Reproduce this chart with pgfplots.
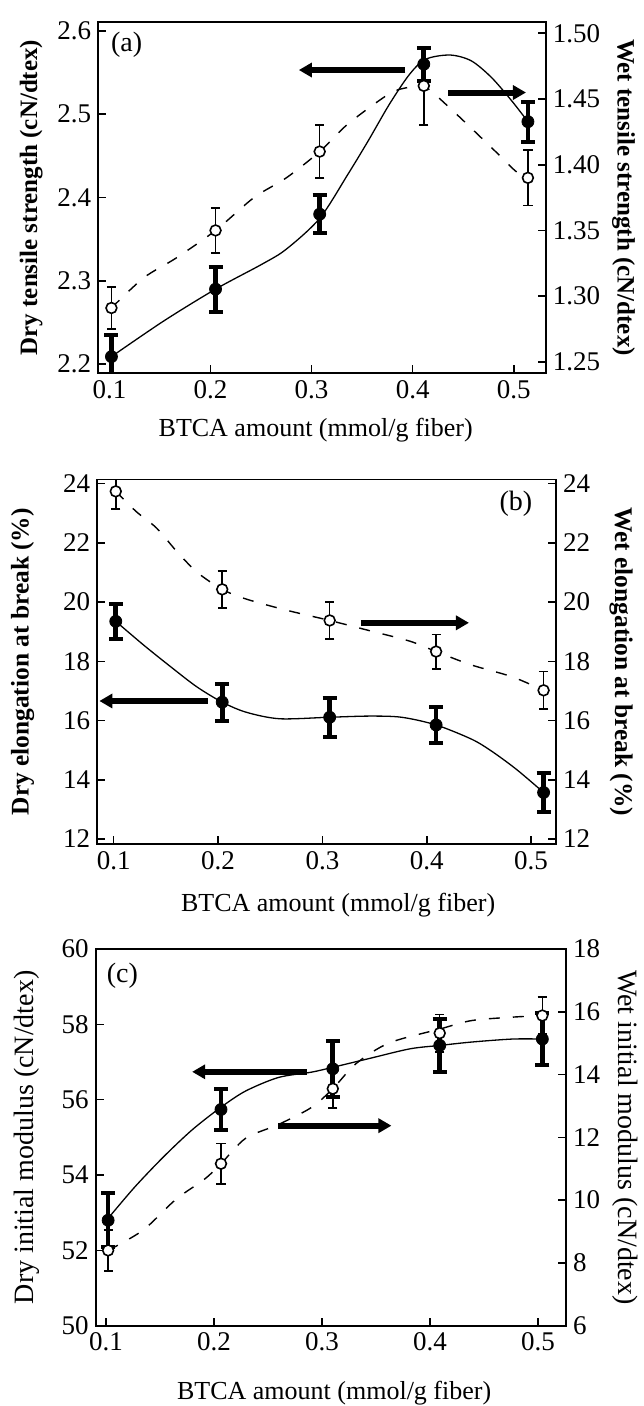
\documentclass[border=0pt]{standalone}
\usepackage{pgfplots}
\pgfplotsset{compat=1.18}
\usepackage{fontspec}
\setmainfont{Liberation Serif}
\usetikzlibrary{arrows.meta}

\tikzset{arr/.style={line width=3pt, -{Triangle[length=6.5pt,width=7pt]}}}
\pgfplotsset{
  base/.style={
    scale only axis, anchor=south west,
    font=\fontsize{13}{15}\selectfont,
    tick label style={font=\fontsize{13.5}{15}\selectfont},
    axis line style={line width=0.9pt},
    major tick style={line width=0.8pt, black},
    major tick length=4pt,
    tick align=inside,
    xtick={0.1,0.2,0.3,0.4,0.5},
    xticklabels={0.1,0.2,0.3,0.4,0.5},
  },
  leftax/.style={base, xtick pos=bottom, ytick pos=left},
  rightax/.style={base, axis y line*=right, axis x line=none, xtick=\empty},
  dry/.style={only marks, mark=*, mark size=3pt, mark options={fill=black, draw=black},
     error bars/y dir=both, error bars/y explicit,
     error bars/error bar style={line width=2.3pt},
     error bars/error mark options={rotate=90, mark size=3.5pt, line width=2pt}},
  wet/.style={only marks, mark=*, mark size=2.7pt, mark options={fill=white, draw=black, line width=0.8pt},
     error bars/y dir=both, error bars/y explicit,
     error bars/error bar style={line width=0.75pt},
     error bars/error mark options={rotate=90, mark size=2.3pt, line width=0.8pt}},
  fitline/.style={smooth, line width=0.65pt, no marks, black},
  dashline/.style={smooth, line width=0.7pt, no marks, black, dash pattern=on 5.5pt off 6.5pt},
}

\begin{document}
\begin{tikzpicture}
\useasboundingbox (0,0) rectangle (321.5pt,-703pt);

% ---------------- (a) ----------------
\begin{axis}[leftax, at={(49.15pt,-186.65pt)}, width=223.7pt, height=175.8pt,
  xmin=0.089, xmax=0.5316, ymin=2.189, ymax=2.611,
  ytick={2.2,2.3,2.4,2.5,2.6}, yticklabels={2.2,2.3,2.4,2.5,2.6},
  xlabel={BTCA amount (mmol/g fiber)},
  ylabel={\bfseries\fontsize{12.5}{14}\selectfont Dry tensile strength (cN/dtex)},
  xlabel style={at={(axis description cs:0.486,-0.161)}, anchor=center},
  ylabel style={at={(axis description cs:-0.150,0.5)}, anchor=center}]
\addplot[fitline] coordinates {(0.102,2.209) (0.154,2.252) (0.205,2.290) (0.251,2.320) (0.275,2.338) (0.308,2.375) (0.336,2.428) (0.356,2.468) (0.377,2.512) (0.397,2.548) (0.413,2.566) (0.437,2.571) (0.458,2.564) (0.478,2.544) (0.498,2.516) (0.514,2.491)};
\addplot[dry] coordinates {(0.102,2.209) +- (0,0.026) (0.205,2.290) +- (0,0.027) (0.308,2.380) +- (0,0.023) (0.411,2.560) +- (0,0.020) (0.514,2.491) +- (0,0.024)};
\draw[arr] (axis cs:0.3927,2.553) -- (axis cs:0.2874,2.553);
\draw[arr] (axis cs:0.4352,2.526) -- (axis cs:0.5121,2.526);
\node[font=\fontsize{14}{16}\selectfont] at (axis cs:0.117,2.583) {(a)};
\end{axis}
\begin{axis}[rightax, at={(49.15pt,-186.65pt)}, width=223.7pt, height=175.8pt,
  xmin=0.089, xmax=0.5316, ymin=1.2413, ymax=1.5088,
  ytick={1.25,1.30,1.35,1.40,1.45,1.50}, yticklabels={1.25,1.30,1.35,1.40,1.45,1.50},
  ylabel={\bfseries\fontsize{12.5}{14}\selectfont Wet tensile strength (cN/dtex)},
  ylabel style={at={(axis description cs:1.174,0.5)}, anchor=center, rotate=180}]
\addplot[dashline] coordinates {(0.102,1.291) (0.134,1.314) (0.166,1.329) (0.205,1.350) (0.243,1.375) (0.275,1.390) (0.308,1.410) (0.336,1.431) (0.377,1.454) (0.397,1.459) (0.411,1.460) (0.437,1.443) (0.478,1.413) (0.502,1.395) (0.514,1.390)};
\addplot[wet] coordinates {(0.102,1.291) +- (0,0.016) (0.205,1.350) +- (0,0.017) (0.308,1.410) +- (0,0.020) (0.411,1.460) +- (0,0.030) (0.514,1.390) +- (0,0.021)};
\end{axis}

% ---------------- (b) ----------------
\begin{axis}[leftax, at={(48.65pt,-422pt)}, width=229.35pt, height=182.25pt,
  xmin=0.0843, xmax=0.5239, ymin=11.83, ymax=24.14,
  ytick={12,14,16,18,20,22,24}, yticklabels={12,14,16,18,20,22,24},
  xlabel={BTCA amount (mmol/g fiber)},
  ylabel={\bfseries\fontsize{12.7}{14}\selectfont Dry elongation at break (\%)},
  xlabel style={at={(axis description cs:0.525,-0.167)}, anchor=center},
  ylabel style={at={(axis description cs:-0.163,0.5)}, anchor=center}]
\addplot[fitline] coordinates {(0.102,19.35) (0.129,18.54) (0.157,17.75) (0.180,17.13) (0.204,16.62) (0.227,16.28) (0.259,16.06) (0.306,16.11) (0.345,16.15) (0.376,16.11) (0.409,15.85) (0.443,15.37) (0.462,14.97) (0.486,14.35) (0.512,13.57)};
\addplot[dry] coordinates {(0.102,19.35) +- (0,0.60) (0.204,16.62) +- (0,0.62) (0.307,16.11) +- (0,0.65) (0.409,15.85) +- (0,0.60) (0.512,13.57) +- (0,0.65)};
\draw[arr] (axis cs:0.3368,19.30) -- (axis cs:0.4405,19.30);
\draw[arr] (axis cs:0.1900,16.66) -- (axis cs:0.0863,16.66);
\node[font=\fontsize{14}{16}\selectfont] at (axis cs:0.4855,23.32) {(b)};
\end{axis}
\begin{axis}[rightax, at={(48.65pt,-422pt)}, width=229.35pt, height=182.25pt,
  xmin=0.0843, xmax=0.5239, ymin=11.83, ymax=24.14,
  ytick={12,14,16,18,20,22,24}, yticklabels={12,14,16,18,20,22,24},
  ylabel={\bfseries\fontsize{12.7}{14}\selectfont Wet elongation at break (\%)},
  ylabel style={at={(axis description cs:1.142,0.5)}, anchor=center, rotate=180}]
\addplot[dashline] coordinates {(0.102,23.74) (0.1215,23.06) (0.1411,22.50) (0.1607,21.70) (0.1802,21.00) (0.204,20.43) (0.2272,20.10) (0.2663,19.72) (0.307,19.38) (0.3446,19.04) (0.3838,18.68) (0.409,18.33) (0.4425,17.88) (0.4816,17.48) (0.512,17.02)};
\addplot[wet] coordinates {(0.102,23.74) +- (0,0.60) (0.204,20.43) +- (0,0.63) (0.307,19.38) +- (0,0.63) (0.409,18.33) +- (0,0.58) (0.512,17.02) +- (0,0.64)};
\end{axis}

% ---------------- (c) ----------------
\begin{axis}[leftax, at={(47.85pt,-662.85pt)}, width=235.15pt, height=188.35pt,
  xmin=0.0905, xmax=0.5259, ymin=50, ymax=60,
  ytick={50,52,54,56,58,60}, yticklabels={50,52,54,56,58,60},
  xlabel={BTCA amount (mmol/g fiber)},
  ylabel={\fontsize{14}{16}\selectfont Dry initial modulus (cN/dtex)},
  xlabel style={at={(axis description cs:0.507,-0.179)}, anchor=center},
  ylabel style={at={(axis description cs:-0.147,0.5)}, anchor=center}]
\addplot[fitline] coordinates {(0.102,52.85) (0.1266,53.68) (0.1532,54.48) (0.1798,55.20) (0.2065,55.80) (0.2293,56.23) (0.2597,56.59) (0.2901,56.73) (0.310,56.86) (0.3433,57.09) (0.3814,57.35) (0.409,57.44) (0.4384,57.53) (0.4764,57.61) (0.504,57.61)};
\addplot[dry] coordinates {(0.102,52.80) +- (0,0.72) (0.2065,55.74) +- (0,0.55) (0.310,56.82) +- (0,0.74) (0.409,57.44) +- (0,0.70) (0.504,57.61) +- (0,0.70)};
\draw[arr] (axis cs:0.2863,56.74) -- (axis cs:0.1798,56.74);
\draw[arr] (axis cs:0.2597,55.31) -- (axis cs:0.3643,55.31);
\node[font=\fontsize{14}{16}\selectfont] at (axis cs:0.1152,59.28) {(c)};
\end{axis}
\begin{axis}[rightax, at={(47.85pt,-662.85pt)}, width=235.15pt, height=188.35pt,
  xmin=0.0905, xmax=0.5259, ymin=6, ymax=18,
  ytick={6,8,10,12,14,16,18}, yticklabels={6,8,10,12,14,16,18},
  ylabel={\fontsize{14}{16}\selectfont Wet initial modulus (cN/dtex)},
  ylabel style={at={(axis description cs:1.125,0.5)}, anchor=center, rotate=180}]
\addplot[dashline] coordinates {(0.102,8.40) (0.1342,9.04) (0.1646,10.02) (0.1913,10.67) (0.2065,11.16) (0.2293,11.97) (0.2597,12.41) (0.2901,12.95) (0.310,13.55) (0.3319,14.36) (0.3624,15.01) (0.409,15.45) (0.4384,15.72) (0.4764,15.83) (0.504,15.88)};
\addplot[wet] coordinates {(0.102,8.40) +- (0,0.65) (0.2065,11.16) +- (0,0.64) (0.310,13.55) +- (0,0.62) (0.409,15.32) +- (0,0.60) (0.504,15.88) +- (0,0.59)};
\end{axis}
\end{tikzpicture}
\end{document}
